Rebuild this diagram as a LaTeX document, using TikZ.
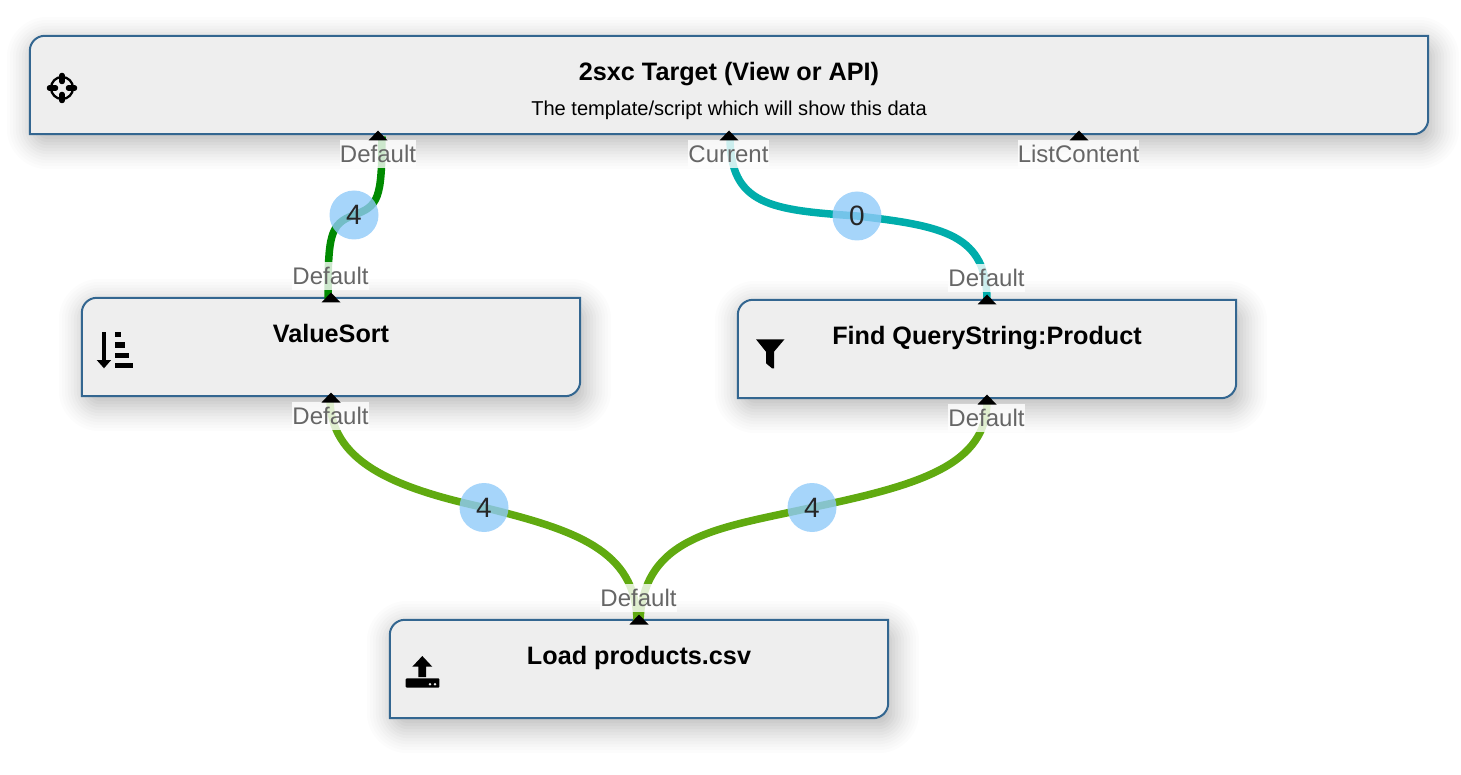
\documentclass[tikz,border=0pt]{standalone}
\usepackage{fontspec}
\setmainfont{Liberation Sans}
\definecolor{boxfill}{HTML}{EEEEEE}
\definecolor{boxline}{HTML}{336690}
\definecolor{dgreen}{HTML}{008A00}
\definecolor{lgreen}{HTML}{60AA10}
\definecolor{teal2}{HTML}{00ADAB}
\definecolor{badgeblue}{HTML}{90CAF9}
\definecolor{labelgrey}{HTML}{666666}
\pgfdeclarelayer{boxlayer}
\pgfdeclarelayer{connlayer}
\pgfsetlayers{boxlayer,connlayer,main}
\tikzset{
  boxframe/.style={draw=none,fill=none,inner sep=0pt,minimum height=98pt},
  boxshape/.style={draw=boxline,line width=2pt,fill=boxfill},
  titletext/.style={font=\fontsize{25.2}{30}\selectfont\bfseries,text=black,inner sep=0pt},
  subtext/.style={font=\fontsize{20.1}{24}\selectfont,text=black,inner sep=0pt},
  portlabel/.style={font=\fontsize{24}{28}\selectfont,text=labelgrey,fill=white,fill opacity=.8,text opacity=1,
    inner sep=0pt,minimum height=28pt},
  badge/.style={circle,fill=badgeblue,fill opacity=.8,text opacity=1,minimum size=49pt,inner sep=0pt,
    font=\fontsize{28}{32}\selectfont,text=black!85},
  conn/.style={line width=7.5pt},
  porttip/.style={fill=black},
}
\newcommand\flowbox[4]{%
  \node[boxframe,minimum width=#4] (#1) at (#2,#3) {};
  \begin{pgfonlayer}{boxlayer}
  \foreach \d in {27,24,...,-27}{%
    \pgfmathsetmacro\shadeop{0.011+0.017*exp(-(\d*\d)/200)}%
    \pgfmathsetmacro\shaderad{max(1,14+\d)}%
    \fill[black,fill opacity=\shadeop,rounded corners=\shaderad pt]
      ([xshift=4pt-\d pt,yshift=-8pt+\d pt]#1.north west) rectangle ([xshift=4pt+\d pt,yshift=-8pt-\d pt]#1.south east);
  }
  \draw[boxshape] (#1.south west) [rounded corners=15pt] -- (#1.north west) [sharp corners] -- (#1.north east) [rounded corners=15pt] -- (#1.south east) [sharp corners] -- cycle;
  \end{pgfonlayer}
}
\newcommand\porttri[3]{%
  \coordinate (#1) at (#2,#3);
}
\newcommand\portmark[1]{\fill[porttip] (#1) -- ++(9.5,10) -- ++(-19,0) -- cycle;}
\begin{document}
\begin{tikzpicture}[x=1pt,y=-1pt]
\useasboundingbox (0,0) rectangle (1461,775);
% boxes
\flowbox{target}{729}{85}{1398pt}
\flowbox{valuesort}{331}{347}{498pt}
\flowbox{find}{987}{349}{498pt}
\flowbox{load}{639}{669}{498pt}
% titles
\node[titletext] (targetTitle) at (729,74) {2sxc Target (View or API)};
\node[subtext] (targetSub) at (729,110.5) {The template/script which will show this data};
\node[titletext] (sortTitle) at (331,333) {ValueSort};
\node[titletext] (findTitle) at (987,338) {Find QueryString:Product};
\node[titletext] (loadTitle) at (639,658) {Load products.csv};
% ports
\porttri{tgtDefault}{378}{130.5}
\porttri{tgtCurrent}{729}{130.5}
\porttri{tgtList}{1079}{130.5}
\porttri{sortIn}{331}{292.5}
\porttri{sortOut}{331}{392.5}
\porttri{findIn}{987}{294.5}
\porttri{findOut}{987}{394.5}
\porttri{loadOut}{639}{614.5}
% badges
\node[badge] (b1) at (354,215) {4};
\node[badge] (b2) at (857,216) {0};
\node[badge] (b3) at (484,507.5) {4};
\node[badge] (b4) at (812,507.5) {4};
% port labels
\node[portlabel] (l1) at (378,154) {Default};
\node[portlabel] (l2) at (728.5,154) {Current};
\node[portlabel] (l3) at (1078.5,154) {ListContent};
\node[portlabel] (l4) at (330.5,276) {Default};
\node[portlabel] (l5) at (330.5,416) {Default};
\node[portlabel] (l6) at (986.5,278) {Default};
\node[portlabel] (l7) at (986.5,418) {Default};
\node[portlabel] (l8) at (638.5,598) {Default};
% arrow marks above labels
\portmark{tgtDefault}\portmark{tgtCurrent}\portmark{tgtList}
\portmark{sortIn}\portmark{sortOut}\portmark{findIn}\portmark{findOut}\portmark{loadOut}
% connectors
\begin{pgfonlayer}{connlayer}
\draw[conn,dgreen] ([xshift=4pt,yshift=-6pt]tgtDefault) .. controls (382,200) and (378,206) .. (b1.center)
  .. controls (330,224) and (328,235) .. ([xshift=-3pt,yshift=-7pt]sortIn);
\draw[conn,teal2] ([xshift=1pt,yshift=-6pt]tgtCurrent) .. controls (730,205) and (770,210) .. (b2.center)
  .. controls (945,226) and (987,235) .. ([yshift=-7pt]findIn);
\draw[conn,lgreen] ([xshift=-1pt,yshift=-6pt]sortOut) .. controls (330,460) and (390,487) .. (b3.center)
  .. controls (575,530) and (636,550) .. ([xshift=-2pt,yshift=-7pt]loadOut);
\draw[conn,lgreen] ([yshift=-6pt]findOut) .. controls (987,465) and (920,485) .. (b4.center)
  .. controls (720,528) and (643,535) .. ([xshift=1pt,yshift=-7pt]loadOut);
\end{pgfonlayer}
% icon: crosshair
\draw[line width=2.3pt] (62,88) circle (11);
\draw[line width=5.5pt,line cap=round] (62,75.5) -- (62,81.5) (62,94.5) -- (62,100.5) (49.5,88) -- (55.5,88) (68.5,88) -- (74.5,88);
% icon: sort
\fill (102.4,332) rectangle (105.6,361);
\fill (96.7,360) -- (111.2,360) -- (104,368.3) -- cycle;
\fill (115,331.7) rectangle (120.7,337.3);
\fill (115,342.3) rectangle (125,347.7);
\fill (115,352.7) rectangle (128.5,358);
\fill (115,362.7) rectangle (132.5,368);
% icon: funnel
\fill (756,339.3) -- (784.5,339.3) -- (774,351.7) -- (774,368.3) -- (772,368.3) -- (766,363.3) -- (766,351.7) -- cycle;
% icon: load
\fill (422.3,656) -- (432.3,666.7) -- (426,666.7) -- (426,677) -- (418.3,677) -- (418.3,666.7) -- (412.3,666.7) -- cycle;
\fill[rounded corners=1pt] (405.7,678.3) rectangle (439.3,687.7);
\fill[boxfill] (430,684.2) circle (1.4) (435,684.2) circle (1.4);
\end{tikzpicture}
\end{document}
